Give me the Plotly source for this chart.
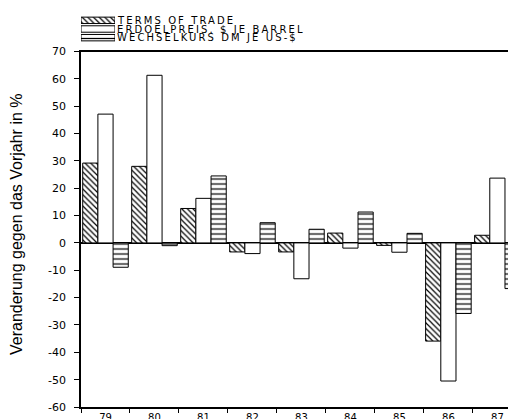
import plotly.graph_objects as go

years = ["79", "80", "81", "82", "83", "84", "85", "86", "87"]
terms_of_trade = [29.2, 28.0, 12.6, -3.3, -3.3, 3.6, -0.9, -35.9, 2.8]
oil_price = [47.1, 61.3, 16.3, -3.9, -13.1, -1.9, -3.4, -50.5, 23.7]
exchange_rate = [-8.9, -1.0, 24.5, 7.4, 5.0, 11.3, 3.5, -25.8, -16.7]
series_names = ["TERMS OF TRADE", "ERDOELPREIS. $ JE BARREL", "WECHSELKURS DM JE US-$"]
y_ticks = [-60, -50, -40, -30, -20, -10, 0, 10, 20, 30, 40, 50, 60, 70]
y_title = "Veranderung gegen das Vorjahr in %"

# page offset of the plot div (default body margin)
OFF = 8
W, H = 516 - OFF, 419 - OFF
L, R, T, B = 81 - OFF, 0, 0, 4
PW, PH = W - L - R, H - T - B

def py(p):  # screen pixel y -> paper y
    return (H - B - (p - OFF)) / PH

def px_(p):  # screen pixel x -> paper x
    return ((p - OFF) - L) / PW

plot_font = "DejaVu Sans"
patterns = [
    dict(shape="\\", size=4, solidity=0.3, fgcolor="black", bgcolor="white"),
    dict(shape="", bgcolor="white"),
    dict(shape="-", size=5, solidity=0.25, fgcolor="black", bgcolor="white"),
]
values = [terms_of_trade, oil_price, exchange_rate]

fig = go.Figure()
for name, vals, pat in zip(series_names, values, patterns):
    fig.add_trace(go.Bar(
        x=years, y=vals, name=name,
        marker=dict(color="white", line=dict(color="black", width=1), pattern=pat),
        showlegend=False, xaxis="x", yaxis="y",
    ))

# legend swatches
for name, pat in zip(series_names, patterns):
    fig.add_trace(go.Bar(
        y=[name], x=[1], orientation="h", name=name,
        marker=dict(color="white", line=dict(color="black", width=1), pattern=pat),
        showlegend=False, xaxis="x2", yaxis="y2", width=0.74,
    ))

annotations = []
row_px = [20.3, 29.0, 37.6]
for name, rp in zip(series_names, row_px):
    annotations.append(dict(
        text='<span style="letter-spacing:2.1px">' + name + '</span>',
        xref="paper", yref="paper", x=px_(115), y=py(rp),
        xanchor="left", yanchor="middle", showarrow=False,
        font=dict(family=plot_font, size=10, color="black"),
    ))
annotations.append(dict(
    text=y_title, xref="paper", yref="paper", x=px_(17), y=py(224),
    xanchor="center", yanchor="middle", showarrow=False, textangle=-90,
    font=dict(family="Liberation Sans", size=16, color="black"),
))

fig.update_layout(
    template="none",
    width=W, height=H,
    margin=dict(l=L, r=R, t=T, b=B, pad=0, autoexpand=False),
    paper_bgcolor="white", plot_bgcolor="white",
    barmode="group", bargap=0.07, bargroupgap=0.0,
    font=dict(family=plot_font, size=11, color="black"),
    annotations=annotations,
    xaxis=dict(
        type="category", domain=[0, 1], range=[-0.5, 8.38], automargin=False,
        showline=True, linecolor="black", linewidth=1.5, mirror=True,
        ticks="outside", tickson="boundaries", ticklen=4, tickcolor="black",
        showgrid=False, zeroline=False, anchor="y",
        tickfont=dict(family=plot_font, size=10),
    ),
    yaxis=dict(
        domain=[py(407), py(51.5)], range=[-60, 70], automargin=False,
        tickvals=y_ticks, ticktext=[str(v) for v in y_ticks],
        showline=True, linecolor="black", linewidth=1.5,
        ticks="outside", ticklen=5, tickcolor="black", ticklabelstandoff=6,
        showgrid=False, zeroline=True, zerolinecolor="black", zerolinewidth=1.5,
        anchor="x", tickfont=dict(family=plot_font, size=11),
    ),
    xaxis2=dict(domain=[0, px_(115)], range=[0, 1], visible=False, anchor="y2",
                fixedrange=True, automargin=False),
    yaxis2=dict(domain=[py(42.0), py(16.0)], type="category",
                categoryorder="array", categoryarray=series_names[::-1],
                visible=False, anchor="x2", fixedrange=True, automargin=False),
)

fig.write_html("out.html")
